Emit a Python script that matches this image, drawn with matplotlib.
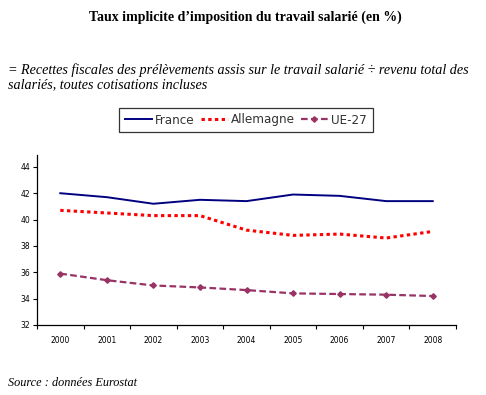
import matplotlib
matplotlib.use("Agg")
import matplotlib.pyplot as plt
import numpy as np

# data
years = ["2000", "2001", "2002", "2003", "2004", "2005", "2006", "2007", "2008"]
france = [42.0, 41.7, 41.2, 41.5, 41.4, 41.9, 41.8, 41.4, 41.4]
allemagne = [40.7, 40.5, 40.3, 40.3, 39.2, 38.8, 38.9, 38.6, 39.1]
ue27 = [35.9, 35.4, 35.0, 34.85, 34.65, 34.4, 34.35, 34.3, 34.2]
yticks = [32, 34, 36, 38, 40, 42, 44]

W, H = 486, 395
fig = plt.figure(figsize=(W / 100, H / 100), dpi=100)
fig.patch.set_facecolor("white")

serif = "Liberation Serif"

fig.text(245 / W, 1 - 17 / H, "Taux implicite d\u2019imposition du travail salari\u00e9 (en %)",
         ha="center", va="center", fontsize=10, fontweight="bold", family=serif)
fig.text(8 / W, 1 - 70 / H,
         "= Recettes fiscales des pr\u00e9l\u00e8vements assis sur le travail salari\u00e9 \u00f7 revenu total des",
         ha="left", va="center", fontsize=10.2, style="italic", family=serif)
fig.text(8 / W, 1 - 85 / H, "salari\u00e9s, toutes cotisations incluses",
         ha="left", va="center", fontsize=10.2, style="italic", family=serif)
fig.text(8 / W, 1 - 383 / H, "Source : donn\u00e9es Eurostat",
         ha="left", va="center", fontsize=8.8, style="italic", family=serif)

left, right, bottom, top = 37, 456, 325, 155
ax = fig.add_axes([left / W, 1 - bottom / H, (right - left) / W, (bottom - top) / H])

x = np.arange(len(years)) + 0.5
l1, = ax.plot(x, france, color="#000080", lw=1.4, label="France")
l2, = ax.plot(x, allemagne, color="#ff0000", lw=2.2, ls=(0, (1.1, 1.1)), label="Allemagne")
l3, = ax.plot(x, ue27, color="#993366", lw=1.6, ls=(0, (3, 1.5)), marker="D", ms=2.8,
              label="UE-27")

ax.set_xlim(0, len(years))
ax.set_ylim(32, 44.9)
ax.set_yticks(yticks)
ax.set_yticklabels([str(v) for v in yticks], fontsize=5.5)
ax.set_xticks(np.arange(len(years) + 1))
ax.set_xticklabels([])
ax.set_xticks(x, minor=True)
ax.set_xticklabels(years, minor=True, fontsize=5.5)
ax.tick_params(axis="x", which="major", direction="out", length=3, width=0.8)
ax.tick_params(axis="x", which="minor", length=0, pad=8)
ax.tick_params(axis="y", direction="out", length=3, width=0.8, pad=2)
ax.spines["top"].set_visible(False)
ax.spines["right"].set_visible(False)
for s in ("left", "bottom"):
    ax.spines[s].set_linewidth(0.9)

leg = fig.legend(handles=[l1, l2, l3], loc="center", ncol=3,
                 bbox_to_anchor=(246 / W, 1 - 120 / H), frameon=True, fancybox=False,
                 handlelength=2.05, handletextpad=0.23, columnspacing=0.45,
                 borderpad=0.45, borderaxespad=0,
                 prop={"family": "DejaVu Sans", "size": 9.5, "stretch": "condensed"})
leg.get_frame().set_edgecolor("black")
leg.get_frame().set_linewidth(0.9)
for t in leg.get_texts():
    t.set_color("#333333")

fig.savefig("out.png", dpi=100)
